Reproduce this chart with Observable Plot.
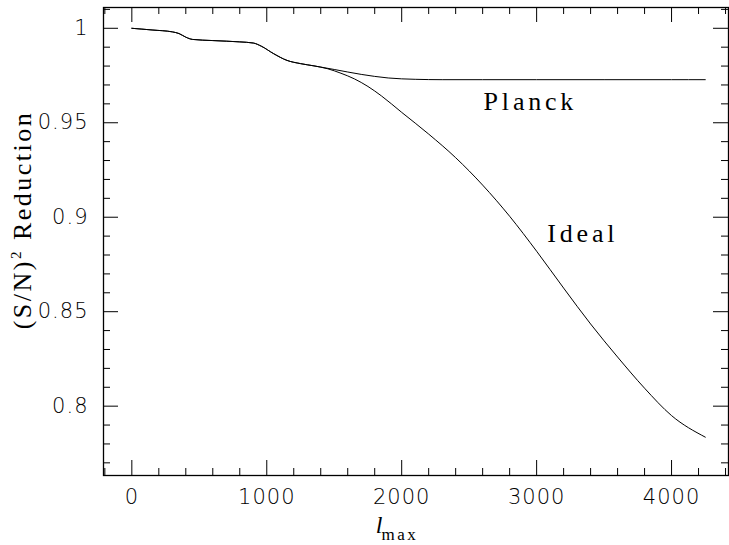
<!DOCTYPE html>
<html><head><meta charset="utf-8">
<script src="https://cdn.jsdelivr.net/npm/d3@7"></script>
<script src="https://cdn.jsdelivr.net/npm/@observablehq/plot@0.6"></script>
<style>
body{margin:0;background:#fff}
#chart svg{display:block}
</style>
</head><body><div id="chart"></div>
<script>
// shared part of both curves
const commonX = [0, 150, 300, 350, 400, 450, 600, 800, 900, 960, 1050, 1150, 1250, 1350];
const commonY = [1.0, 0.9991, 0.9981, 0.9972, 0.9953, 0.9941, 0.9935, 0.9928, 0.9922, 0.9905, 0.9866, 0.9830, 0.9813, 0.9801];
// Planck branch
const planckX = [1500, 1700, 1900, 2100, 2300, 2600, 3000, 3500, 4000, 4250];
const planckY = [0.9782, 0.9756, 0.9737, 0.9730, 0.9728, 0.9728, 0.9728, 0.9728, 0.9728, 0.9728];
// Ideal branch
const idealX = [1450, 1550, 1650, 1750, 1850, 2000, 2200, 2400, 2600, 2800, 3000, 3200, 3400, 3600, 3800, 4000, 4250];
const idealY = [0.9786, 0.9762, 0.9732, 0.9692, 0.9642, 0.9555, 0.9440, 0.9315, 0.9170, 0.9005, 0.8820, 0.8625, 0.8435, 0.8260, 0.8095, 0.7950, 0.7836];
// ticks
const xMajor = [0, 1000, 2000, 3000, 4000];
const xMinor = [-200, 200, 400, 600, 800, 1200, 1400, 1600, 1800, 2200, 2400, 2600, 2800, 3200, 3400, 3600, 3800, 4200, 4400];
const yMajor = [0.8, 0.85, 0.9, 0.95, 1];
const yMinor = [0.77, 0.78, 0.79, 0.81, 0.82, 0.83, 0.84, 0.86, 0.87, 0.88, 0.89, 0.91, 0.92, 0.93, 0.94, 0.96, 0.97, 0.98, 0.99, 1.01];
// annotations
const seriesNames = ["Planck", "Ideal"];
const labelX = [2607, 3079];
const labelY = [0.9565, 0.8868];

const planck = commonX.map((x, i) => ({x, y: commonY[i]})).concat(planckX.map((x, i) => ({x, y: planckY[i]})));
const ideal = commonX.map((x, i) => ({x, y: commonY[i]})).concat(idealX.map((x, i) => ({x, y: idealY[i]})));
const labels = seriesNames.map((t, i) => ({t, x: labelX[i], y: labelY[i]}));

const W = 729, H = 545, mL = 103, mR = 1, mT = 7, mB = 70;
const ph = H - mT - mB, pw = W - mL - mR;
const bigT = 15, smallT = 7;
const tickFont = "'DejaVu Sans ExtraLight', 'DejaVu Sans', sans-serif";
const wordFont = "'Liberation Serif', 'DejaVu Serif', serif";

const chart = Plot.plot({
  width: W, height: H,
  marginLeft: mL, marginRight: mR, marginTop: mT, marginBottom: mB,
  style: {fontFamily: tickFont, background: "#fff", color: "#000"},
  x: {domain: [-210, 4422], label: null},
  y: {domain: [0.7633, 1.011], label: null},
  marks: [
    Plot.axisX({ticks: xMajor, tickSize: 0, tickPadding: 14, tickFormat: d => String(d), fontSize: 21, fontWeight: 200, fill: "#000", label: null}),
    Plot.axisY({ticks: yMajor, tickSize: 0, tickPadding: 15, tickFormat: d => String(d), fontSize: 21, fontWeight: 200, fill: "#000", label: null}),
    // bottom ticks
    Plot.ruleX(xMajor, {insetTop: ph - bigT, stroke: "#000", strokeWidth: 1}),
    Plot.ruleX(xMinor, {insetTop: ph - smallT, stroke: "#000", strokeWidth: 1}),
    // top ticks
    Plot.ruleX(xMajor, {insetBottom: ph - bigT, stroke: "#000", strokeWidth: 1}),
    Plot.ruleX(xMinor, {insetBottom: ph - smallT, stroke: "#000", strokeWidth: 1}),
    // left ticks
    Plot.ruleY(yMajor, {insetRight: pw - bigT, stroke: "#000", strokeWidth: 1}),
    Plot.ruleY(yMinor, {insetRight: pw - smallT, stroke: "#000", strokeWidth: 1}),
    // right ticks
    Plot.ruleY(yMajor, {insetLeft: pw - bigT, stroke: "#000", strokeWidth: 1}),
    Plot.ruleY(yMinor, {insetLeft: pw - smallT, stroke: "#000", strokeWidth: 1}),
    Plot.line(planck, {x: "x", y: "y", stroke: "#000", strokeWidth: 1, curve: "monotone-x"}),
    Plot.line(ideal, {x: "x", y: "y", stroke: "#000", strokeWidth: 1, curve: "monotone-x"}),
    Plot.text(labels, {x: "x", y: "y", text: "t", textAnchor: "start", lineAnchor: "bottom",
      fontSize: 26, fontFamily: wordFont, fill: "#000"}),
    Plot.frame({stroke: "#000", strokeWidth: 1.3})
  ]
});
const svg = d3.select(chart);
svg.selectAll("[aria-label='text'] text").style("letter-spacing", "3.8px");
svg.selectAll("[aria-label^='x-axis'] text, [aria-label^='y-axis'] text").style("letter-spacing", "1px");

// y axis title
const yt = svg.append("text")
  .attr("transform", `translate(30.5,220) rotate(-90)`)
  .attr("text-anchor", "middle")
  .style("font-family", wordFont).style("font-size", "26px").style("letter-spacing", "2.5px")
  .attr("fill", "#000");
yt.append("tspan").text("(S/N)");
yt.append("tspan").attr("dy", -10).style("font-size", "15px").text("2");
yt.append("tspan").attr("dy", 10).text(" Reduction");
// x axis title
const xt = svg.append("text")
  .attr("x", 397).attr("y", 533)
  .style("font-family", wordFont).attr("fill", "#000");
xt.append("tspan").style("font-style", "italic").style("font-size", "24px").text("l");
xt.append("tspan").attr("dx", -1).attr("dy", 7).style("font-size", "17px").style("letter-spacing", "2.5px").text("max");

document.getElementById("chart").appendChild(chart);
</script>
</body></html>
